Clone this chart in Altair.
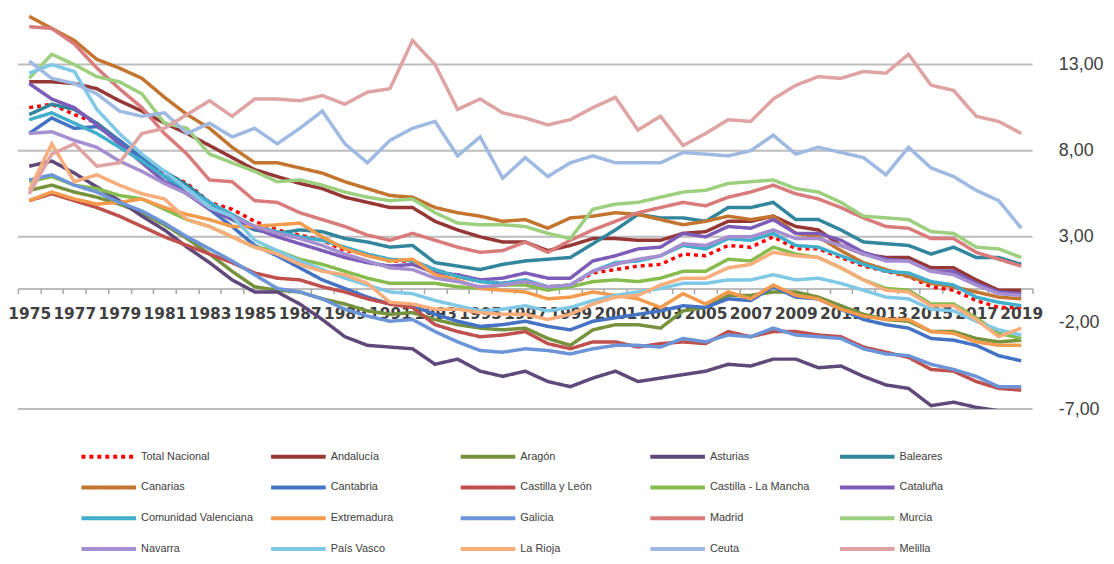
import altair as alt
import pandas as pd

years = list(range(1975, 2020))

series_names = [
    "Total Nacional", "Andalucía", "Aragón", "Asturias", "Baleares",
    "Canarias", "Cantabria", "Castilla y León", "Castilla - La Mancha", "Cataluña",
    "Comunidad Valenciana", "Extremadura", "Galicia", "Madrid", "Murcia",
    "Navarra", "País Vasco", "La Rioja", "Ceuta", "Melilla",
]

series_colors = [
    "#ff0000", "#953735", "#76923c", "#5f497a", "#31859c",
    "#c3742f", "#4472c4", "#c0504d", "#86bc4e", "#7c5cb8",
    "#41aecb", "#f39a4c", "#6b95d8", "#d97b7b", "#9ccf7e",
    "#a68fd1", "#7fc8e6", "#f9ad7b", "#9eb9e2", "#dea3a2",
]

total_nacional = [10.5, 10.7, 10.1, 9.6, 8.5, 7.6, 6.7, 6.1, 5.0, 4.6,
                  3.9, 3.4, 3.1, 2.8, 2.2, 2.0, 1.6, 1.6, 1.1, 0.7,
                  0.4, 0.3, 0.4, 0.1, 0.2, 0.9, 1.1, 1.3, 1.4, 2.0,
                  1.9, 2.5, 2.4, 3.0, 2.3, 2.3, 1.8, 1.3, 1.0, 0.7,
                  0.1, -0.1, -0.7, -1.1, -1.1]
andalucia = [12.0, 12.0, 11.9, 11.6, 10.9, 10.3, 9.6, 9.0, 8.3, 7.6,
             6.9, 6.5, 6.1, 5.8, 5.3, 5.0, 4.7, 4.7, 3.9, 3.4,
             3.0, 2.7, 2.7, 2.2, 2.5, 2.9, 2.9, 2.8, 2.8, 3.2,
             3.3, 3.9, 3.9, 4.2, 3.6, 3.4, 2.5, 2.0, 1.8, 1.8,
             1.2, 1.2, 0.5, -0.1, -0.1]
aragon = [5.7, 6.0, 5.6, 5.3, 4.9, 4.4, 3.7, 2.9, 2.0, 1.0,
          0.1, -0.1, -0.2, -0.6, -0.9, -1.3, -1.5, -1.4, -1.8, -2.1,
          -2.3, -2.4, -2.3, -2.9, -3.3, -2.4, -2.1, -2.1, -2.3, -1.3,
          -1.1, -0.4, -0.4, -0.2, -0.2, -0.5, -1.0, -1.5, -1.8, -1.9,
          -2.5, -2.5, -2.9, -3.1, -3.0]
asturias = [7.1, 7.4, 6.7, 5.9, 5.1, 4.2, 3.4, 2.4, 1.5, 0.5,
            -0.2, -0.2, -0.9, -1.8, -2.8, -3.3, -3.4, -3.5, -4.4, -4.1,
            -4.8, -5.1, -4.8, -5.4, -5.7, -5.2, -4.8, -5.4, -5.2, -5.0,
            -4.8, -4.4, -4.5, -4.1, -4.1, -4.6, -4.5, -5.1, -5.6, -5.8,
            -6.8, -6.6, -6.9, -7.1, -7.4]
baleares = [10.1, 10.7, 10.4, 9.6, 8.6, 7.6, 6.8, 6.0, 5.0, 4.0,
            3.4, 3.2, 3.4, 3.3, 2.9, 2.7, 2.4, 2.5, 1.5, 1.3,
            1.1, 1.4, 1.6, 1.7, 1.8, 2.6, 3.4, 4.3, 4.1, 4.1,
            3.9, 4.7, 4.7, 5.0, 4.0, 4.0, 3.4, 2.7, 2.6, 2.5,
            2.0, 2.4, 1.8, 1.8, 1.4]
canarias = [15.8, 15.1, 14.4, 13.3, 12.8, 12.2, 11.1, 10.1, 9.3, 8.2,
            7.3, 7.3, 7.0, 6.7, 6.2, 5.8, 5.4, 5.3, 4.7, 4.4,
            4.2, 3.9, 4.0, 3.5, 4.1, 4.2, 4.4, 4.3, 4.0, 3.7,
            3.9, 4.2, 4.0, 4.2, 3.2, 3.0, 2.2, 1.5, 1.1, 0.7,
            0.3, 0.1, -0.2, -0.5, -0.6]
cantabria = [9.0, 9.9, 9.3, 9.4, 8.6, 7.5, 6.5, 5.5, 4.6, 3.6,
             2.5, 1.9, 1.2, 0.5, 0.0, -0.5, -0.9, -1.0, -1.5, -1.9,
             -2.2, -2.1, -1.9, -2.2, -2.4, -1.9, -1.7, -1.5, -1.3, -1.0,
             -1.1, -0.6, -0.7, 0.1, -0.5, -0.6, -1.2, -1.8, -2.1, -2.3,
             -2.9, -3.0, -3.3, -3.9, -4.2]
castilla_leon = [5.1, 5.5, 5.1, 4.7, 4.2, 3.6, 3.0, 2.5, 2.0, 1.5,
                 0.9, 0.6, 0.5, 0.1, -0.2, -0.6, -0.9, -1.1, -2.1, -2.5,
                 -2.8, -2.7, -2.5, -3.2, -3.5, -3.1, -3.1, -3.4, -3.2, -3.1,
                 -3.2, -2.5, -2.8, -2.5, -2.5, -2.7, -2.8, -3.4, -3.7, -4.0,
                 -4.7, -4.8, -5.4, -5.8, -5.9]
castilla_mancha = [6.2, 6.5, 6.0, 5.8, 5.4, 5.2, 4.6, 4.0, 3.6, 3.0,
                   2.4, 2.2, 1.7, 1.4, 1.0, 0.6, 0.3, 0.3, 0.3, 0.1,
                   0.0, 0.2, 0.2, -0.1, 0.1, 0.4, 0.5, 0.4, 0.6, 1.0,
                   1.0, 1.7, 1.6, 2.4, 2.0, 1.8, 1.2, 0.5, 0.0, -0.1,
                   -0.9, -0.9, -1.7, -2.6, -2.9]
cataluna = [11.9, 11.0, 10.5, 9.5, 8.4, 7.3, 6.2, 5.5, 4.6, 4.0,
            3.5, 3.0, 2.6, 2.2, 1.8, 1.5, 1.3, 1.4, 0.9, 0.8,
            0.5, 0.6, 0.9, 0.6, 0.6, 1.6, 1.9, 2.3, 2.4, 3.2,
            3.0, 3.6, 3.5, 4.0, 3.2, 3.2, 2.8, 2.1, 1.7, 1.6,
            1.0, 1.0, 0.3, -0.2, -0.3]
valenciana = [9.8, 10.2, 9.6, 9.0, 8.2, 7.4, 6.5, 5.8, 5.0, 4.3,
              3.6, 3.3, 3.0, 2.8, 2.4, 2.0, 1.7, 1.6, 1.1, 0.7,
              0.4, 0.3, 0.5, 0.1, 0.2, 1.0, 1.5, 1.6, 1.9, 2.5,
              2.3, 2.9, 2.8, 3.2, 2.5, 2.4, 1.9, 1.4, 1.0, 0.9,
              0.4, 0.2, -0.5, -0.8, -1.0]
extremadura = [5.1, 5.6, 5.2, 4.9, 5.0, 5.2, 4.7, 4.3, 4.0, 3.6,
               3.6, 3.7, 3.8, 3.0, 2.3, 1.9, 1.6, 1.7, 0.8, 0.5,
               0.0, -0.1, -0.2, -0.6, -0.5, -0.2, -0.4, -0.6, -1.1, -0.3,
               -0.9, -0.2, -0.6, 0.2, -0.4, -0.6, -1.2, -1.6, -1.8, -1.8,
               -2.5, -2.6, -3.1, -3.3, -3.3]
galicia = [6.3, 6.6, 6.0, 5.6, 5.0, 4.5, 3.8, 3.0, 2.3, 1.6,
           0.8, 0.0, -0.2, -0.6, -1.2, -1.6, -1.9, -1.8, -2.5, -3.1,
           -3.6, -3.7, -3.5, -3.6, -3.8, -3.5, -3.3, -3.3, -3.4, -2.9,
           -3.1, -2.7, -2.8, -2.3, -2.7, -2.8, -2.9, -3.5, -3.8, -3.9,
           -4.4, -4.7, -5.1, -5.7, -5.7]
madrid = [15.2, 15.1, 14.2, 12.8, 11.6, 10.5, 9.0, 7.8, 6.3, 6.2,
          5.1, 5.0, 4.4, 4.0, 3.6, 3.1, 2.8, 3.2, 2.8, 2.4,
          2.1, 2.2, 2.7, 2.1, 2.8, 3.4, 3.9, 4.4, 4.7, 5.0,
          4.8, 5.3, 5.6, 6.0, 5.5, 5.2, 4.7, 4.1, 3.6, 3.5,
          2.9, 2.9, 2.1, 1.7, 1.3]
murcia = [12.2, 13.6, 13.0, 12.3, 12.0, 11.3, 9.6, 9.3, 7.8, 7.3,
          6.8, 6.2, 6.3, 6.0, 5.6, 5.3, 5.1, 5.2, 4.4, 3.8,
          3.7, 3.7, 3.6, 3.2, 2.9, 4.6, 4.9, 5.0, 5.3, 5.6,
          5.7, 6.1, 6.2, 6.3, 5.8, 5.6, 5.0, 4.2, 4.1, 4.0,
          3.3, 3.2, 2.4, 2.3, 1.8]
navarra = [9.0, 9.1, 8.6, 8.2, 7.4, 6.8, 6.1, 5.5, 4.7, 4.2,
           3.6, 3.2, 2.9, 2.5, 2.0, 1.6, 1.2, 1.1, 0.6, 0.4,
           0.1, 0.2, 0.4, 0.1, 0.2, 1.0, 1.4, 1.7, 1.9, 2.6,
           2.5, 3.0, 3.0, 3.4, 2.9, 2.9, 2.5, 2.0, 1.6, 1.6,
           1.0, 0.8, 0.2, -0.3, -0.4]
pais_vasco = [12.5, 13.0, 12.6, 10.4, 9.0, 7.8, 6.8, 5.8, 4.7, 4.2,
              2.8, 2.2, 1.6, 1.1, 0.6, 0.2, -0.2, -0.3, -0.7, -1.0,
              -1.3, -1.2, -1.0, -1.3, -1.1, -0.7, -0.4, -0.2, 0.0, 0.3,
              0.3, 0.5, 0.5, 0.8, 0.5, 0.6, 0.3, -0.1, -0.5, -0.6,
              -1.2, -1.3, -1.9, -2.4, -2.7]
la_rioja = [5.7, 8.4, 6.2, 6.6, 6.0, 5.5, 5.2, 4.0, 3.6, 3.0,
            2.4, 2.0, 1.4, 1.0, 0.8, 0.3, -0.8, -0.9, -1.2, -1.2,
            -1.4, -1.5, -1.5, -1.8, -1.5, -0.9, -0.5, -0.4, 0.2, 0.6,
            0.6, 1.2, 1.4, 2.1, 1.9, 1.8, 1.2, 0.5, -0.1, -0.2,
            -1.0, -1.0, -1.8, -2.8, -2.3]
ceuta = [13.2, 12.2, 11.9, 11.3, 10.3, 10.0, 10.2, 9.0, 9.6, 8.8,
         9.3, 8.4, 9.3, 10.3, 8.4, 7.3, 8.6, 9.3, 9.7, 7.7,
         8.8, 6.4, 7.6, 6.5, 7.3, 7.7, 7.3, 7.3, 7.3, 7.9,
         7.8, 7.7, 8.0, 8.9, 7.8, 8.2, 7.9, 7.6, 6.6, 8.2,
         7.0, 6.5, 5.7, 5.1, 3.5]
melilla = [5.5, 7.8, 8.4, 7.1, 7.3, 9.0, 9.3, 10.1, 10.9, 10.0,
           11.0, 11.0, 10.9, 11.2, 10.7, 11.4, 11.6, 14.4, 13.0, 10.4,
           11.0, 10.2, 9.9, 9.5, 9.8, 10.5, 11.1, 9.2, 10.0, 8.3,
           9.0, 9.8, 9.7, 11.0, 11.8, 12.3, 12.2, 12.6, 12.5, 13.6,
           11.8, 11.5, 10.0, 9.7, 9.0]

all_series = [
    total_nacional, andalucia, aragon, asturias, baleares,
    canarias, cantabria, castilla_leon, castilla_mancha, cataluna,
    valenciana, extremadura, galicia, madrid, murcia,
    navarra, pais_vasco, la_rioja, ceuta, melilla,
]

y_ticks = [-7, -2, 3, 8, 13]
grid_values = [13, 8, 3, -7]

rows = []
for name, vals in zip(series_names, all_series):
    for yr, v in zip(years, vals):
        rows.append({"serie": name, "year": yr, "value": v})
df = pd.DataFrame(rows)

dashes = [[4, 4] if n == "Total Nacional" else [1, 0] for n in series_names]

Y_MIN, Y_MAX = -7, 16.17
W, H = 1022, 402
x_axis_offset = -H * (0 - Y_MIN) / (Y_MAX - Y_MIN)

yscale = alt.Scale(domain=[Y_MIN, Y_MAX], nice=False, zero=False)

y_axis = alt.Axis(
    orient="right", values=y_ticks, title=None, grid=False,
    domain=False, ticks=False, tickSize=0, labelPadding=26,
    labelExpr="replace(replace(format(datum.value, '.2f'), '.', ','), '\u2212', '-')",
    labelFont="Liberation Sans", labelFontSize=18, labelColor="#404040",
    labelFlush=False,
)

legend = alt.Legend(
    title=None, orient="none", legendX=62, legendY=444, columns=5,
    direction="horizontal",
    symbolType="stroke", symbolSize=3025, symbolStrokeWidth=4,
    clipHeight=12, rowPadding=19, columnPadding=16, gridAlign="all",
    labelFont="Liberation Sans", labelFontSize=11, labelColor="#404040",
    labelOffset=3, padding=0, labelLimit=200,
)

grid = alt.Chart(pd.DataFrame({"g": grid_values})).mark_rule(
    color="#bdbdbd", strokeWidth=2
).encode(y=alt.Y("g:Q", scale=yscale, axis=y_axis))

lines = alt.Chart(df).mark_line(strokeWidth=3.5, clip=True).encode(
    x=alt.X(
        "year:O",
        bandPosition=0.5,
        scale=alt.Scale(type="band", paddingInner=0, paddingOuter=0),
        axis=alt.Axis(
            title=None, orient="bottom", offset=x_axis_offset,
            labelExpr="(datum.value - 1975) % 2 == 0 ? datum.label : ''",
            labelAngle=0, labelFont="DejaVu Sans", labelFontWeight="bold",
            labelFontSize=15.5, labelColor="#404040", labelOverlap=False,
            labelPadding=13, labelFlush=False, labelBound=False,
            tickBand="extent", tickSize=5, tickColor="#a6a6a6", tickWidth=1.5,
            domainColor="#a6a6a6", domainWidth=1.5, grid=False,
        ),
    ),
    y=alt.Y("value:Q", scale=yscale, axis=y_axis),
    color=alt.Color("serie:N", scale=alt.Scale(domain=series_names, range=series_colors), legend=legend),
    strokeDash=alt.StrokeDash("serie:N", scale=alt.Scale(domain=series_names, range=dashes), legend=legend),
    order=alt.Order("year:O"),
)

chart = alt.layer(grid, lines).properties(
    width=W, height=H,
    autosize=alt.AutoSizeParams(type="none"),
    padding={"left": 10, "top": 0, "right": 74, "bottom": 146},
).configure_view(stroke=None)

chart.save("out.html", embed_options={"renderer": "svg", "actions": False})
